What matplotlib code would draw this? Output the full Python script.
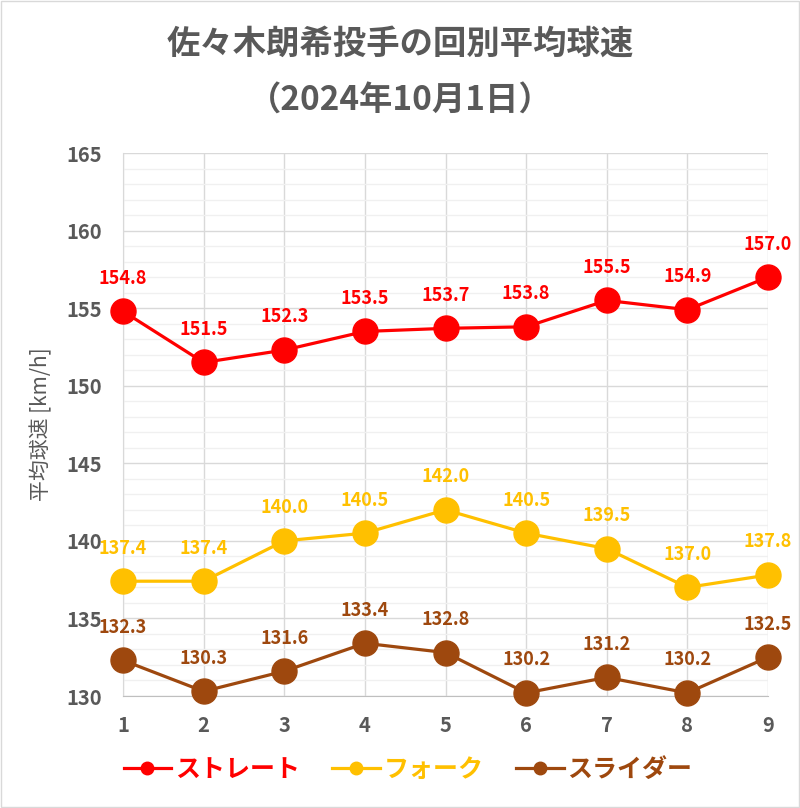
import numpy as np
import matplotlib.pyplot as plt
from matplotlib.ticker import MultipleLocator

plt.rcParams['font.family'] = ['Noto Sans CJK JP', 'DejaVu Sans']

innings = [1, 2, 3, 4, 5, 6, 7, 8, 9]
straight = [154.8, 151.5, 152.3, 153.5, 153.7, 153.8, 155.5, 154.9, 157.0]
fork = [137.4, 137.4, 140.0, 140.5, 142.0, 140.5, 139.5, 137.0, 137.8]
slider = [132.3, 130.3, 131.6, 133.4, 132.8, 130.2, 131.2, 130.2, 132.5]
names = ['ストレート', 'フォーク', 'スライダー']
colors = ['#FF0000', '#FFC000', '#9E480E']
gray = '#595959'

fig = plt.figure(figsize=(8, 8.08), dpi=100)
ax = fig.add_axes([0.15375, 0.1386, 0.80625, 0.672])

for vals, name, c in zip([straight, fork, slider], names, colors):
    ax.plot(innings, vals, '-o', color=c, lw=2.3, ms=18, label=name, zorder=3, clip_on=False)
    for x, v in zip(innings, vals):
        ax.annotate(f'{v:.1f}', (x, v), xytext=(0, 17), textcoords='offset points',
                    ha='center', va='bottom', color=c, fontsize=13, fontweight='bold')

ax.set_xlim(1, 9)
ax.set_ylim(130, 165)
ax.set_xticks(innings)
ax.yaxis.set_major_locator(MultipleLocator(5))
ax.yaxis.set_minor_locator(MultipleLocator(1))
ax.grid(which='major', color='#D9D9D9', lw=1)
ax.grid(which='minor', axis='y', color='#F0F0F0', lw=1)
ax.set_axisbelow(True)
for s in ['top', 'right']:
    ax.spines[s].set_visible(False)
ax.spines['left'].set_color('#D9D9D9')
ax.spines['bottom'].set_color('#BFBFBF')
ax.tick_params(which='both', length=0, colors=gray, labelsize=14.5)
ax.tick_params(axis='y', pad=15)
ax.tick_params(axis='x', pad=14)
for lab in ax.get_xticklabels() + ax.get_yticklabels():
    lab.set_fontweight('bold')
ax.set_ylabel('平均球速 [km/h]', color=gray, fontsize=15, labelpad=10)

fig.text(0.5, 0.945, '佐々木朗希投手の回別平均球速', ha='center', va='center',
         fontsize=24, fontweight='bold', color=gray)
fig.text(0.5, 0.875, '（2024年10月1日）', ha='center', va='center',
         fontsize=24, fontweight='bold', color=gray)

leg = fig.legend(loc='center', bbox_to_anchor=(0.51, 0.047), ncol=3, frameon=False,
                 fontsize=18, markerscale=0.5, handlelength=1.9, handletextpad=0.15,
                 columnspacing=1.3)
for t, c in zip(leg.get_texts(), colors):
    t.set_color(c)
    t.set_fontweight('bold')

fig.patches.append(plt.Rectangle((0.001, 0.001), 0.998, 0.998, transform=fig.transFigure,
                                 fill=False, ec='#D9D9D9', lw=1))
fig.savefig('out.png', dpi=100)
